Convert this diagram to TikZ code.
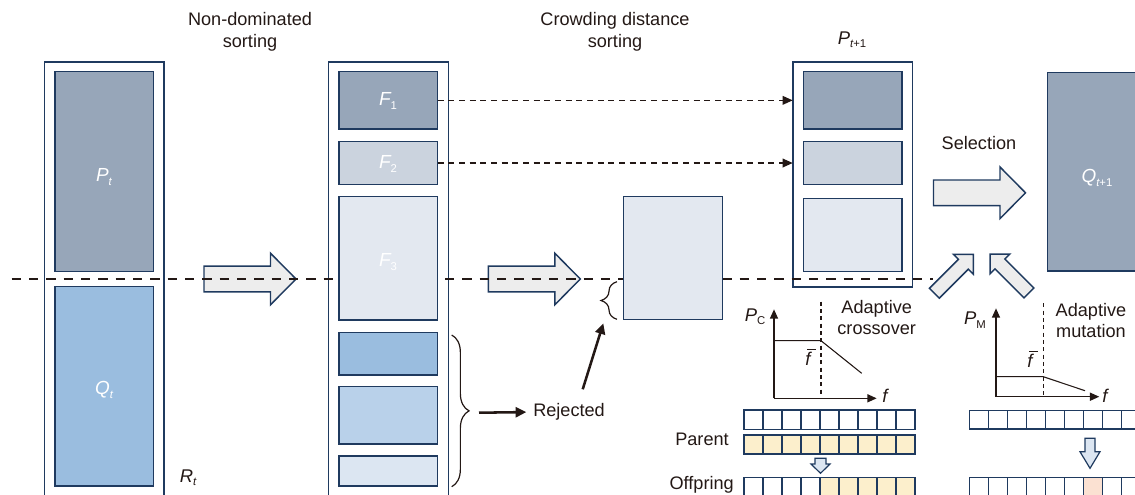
\documentclass[tikz,border=0pt]{standalone}
\usepackage{fontspec}
\setmainfont{Liberation Sans}
\usetikzlibrary{arrows.meta,decorations.pathreplacing,calc}

\definecolor{navy}{HTML}{1F3A5F}
\definecolor{ink}{HTML}{231815}
\definecolor{ptcol}{HTML}{97A6B9}
\definecolor{qtcol}{HTML}{9ABDDF}
\definecolor{ftwo}{HTML}{CBD3DE}
\definecolor{fthree}{HTML}{E3E8F0}
\definecolor{rejtwo}{HTML}{B9D1EA}
\definecolor{rejthree}{HTML}{DCE6F2}
\definecolor{arrfill}{HTML}{EDEDED}
\definecolor{genea}{HTML}{FCEFCC}
\definecolor{geneb}{HTML}{FBE1D2}
\definecolor{downfill}{HTML}{DCE6F2}

% small lowered index for the population / front labels
\newcommand\lowidx[1]{\raisebox{-0.35ex}{\fontsize{8.5}{8.5}\selectfont #1}}
% mean fitness: italic f with a bar above it
\newcommand\fmean{\makebox[0pt][l]{\hspace{1.2pt}\raisebox{11.5pt}{\rule{6.5pt}{0.7pt}}}{\itshape f}}
% rectangle node given by its two corners (in pixel units)
\newcommand\rectnode[6]{\node[#2, minimum width={(#5-#3)*0.75pt}, minimum height={(#6-#4)*0.75pt}] (#1) at ({(#3+#5)/2},{(#4+#6)/2}) {};}

\begin{document}
\begin{tikzpicture}[x=0.75pt,y=-0.75pt,
  txt/.style={font=\fontsize{13.6}{16.3}\selectfont, text=ink, inner sep=0pt, align=center},
  outerbox/.style={draw=navy, line width=1.2pt, inner sep=0pt, outer sep=0pt},
  fillbox/.style={draw=navy, line width=1.1pt, inner sep=0pt, outer sep=0pt},
  wlab/.style={text=white, font=\fontsize{14.2}{14}\selectfont\itshape, inner sep=0pt},
  klab/.style={text=ink, font=\fontsize{13.8}{13}\selectfont\itshape, inner sep=0pt},
  blockarr/.style={draw=navy, fill=arrfill, line width=1.1pt, line join=miter},
  downarr/.style={draw=navy, fill=downfill, line width=0.9pt, line join=miter},
  longdash/.style={draw=ink, line width=0.9pt, dash pattern=on 7pt off 6pt},
  dasharr/.style={draw=ink, line width=1pt, dash pattern=on 4.5pt off 3.5pt, -{Triangle[length=7.5pt,width=6.5pt]}},
  thickarr/.style={draw=ink, line width=1.9pt, -{Triangle[length=8pt,width=7.5pt]}},
  axis/.style={draw=ink, line width=1.1pt, -{Triangle[length=7pt,width=6pt]}},
  curve/.style={draw=ink, line width=0.8pt},
  guide/.style={draw=ink, line width=0.8pt, dash pattern=on 3pt off 2.5pt},
  bracesty/.style={draw=ink, line width=0.9pt, decorate},
  cell/.style={draw=navy, line width=1pt},
  fatarrow/.pic={\path[blockarr] (0,-12.8) -- (66.5,-12.8) -- (66.5,-25.8) -- (92,0) -- (66.5,25.8) -- (66.5,12.8) -- (0,12.8) -- cycle;},
  tiltarrow/.pic={\path[blockarr] (0,-7) -- (41,-7) -- (41,-14) -- (55,0) -- (41,14) -- (41,7) -- (0,7) -- cycle;}
]
\useasboundingbox (0,0) rectangle (1135,494);
\clip (0,0) rectangle (1135,494);

% ---- outer frames ----
\rectnode{Rt}{outerbox}{44.3}{61.7}{164}{520}
\rectnode{Fcol}{outerbox}{328.3}{61.7}{448.3}{520}
\rectnode{Pnext}{outerbox}{792.7}{61.7}{912.3}{286.7}

% ---- block arrows ----
\pic at (204,279) {fatarrow};
\pic at (488.3,279) {fatarrow};
\pic at (933.5,192.8) {fatarrow};
\pic[rotate=45] at (934.4,293.2) {tiltarrow};
\pic[rotate=135] at (1028.9,292.9) {tiltarrow};

% ---- split line between parents and offspring ----
\coordinate (splitL) at (11.7,279);
\coordinate (splitR) at (933,279);
\draw[longdash] (splitL) -- (splitR);

% ---- combined population R_t ----
\rectnode{Pt}{fillbox, fill=ptcol}{55}{71.7}{153.3}{271.7}
\rectnode{Qt}{fillbox, fill=qtcol}{55}{286.7}{153.3}{486}

% ---- non-dominated fronts ----
\rectnode{F1}{fillbox, fill=ptcol}{339}{71.7}{437.7}{129}
\rectnode{F2}{fillbox, fill=ftwo}{339}{141.7}{437.7}{184.3}
\rectnode{F3}{fillbox, fill=fthree}{339}{196.7}{437.7}{320}
\rectnode{F4}{fillbox, fill=qtcol}{339}{332.7}{437.7}{375}
\rectnode{F5}{fillbox, fill=rejtwo}{339}{386.7}{437.7}{444}
\rectnode{F6}{fillbox, fill=rejthree}{339}{456}{437.7}{486}

% ---- crowding-distance selection of F3 ----
\rectnode{Crowd}{fillbox, fill=fthree}{623.3}{196.7}{722.3}{319.3}

% ---- next parent population ----
\rectnode{N1}{fillbox, fill=ptcol}{803.3}{71.7}{902}{129}
\rectnode{N2}{fillbox, fill=ftwo}{803.3}{141.7}{902}{184.3}
\rectnode{N3}{fillbox, fill=fthree}{803.3}{198.3}{902}{271.7}

% ---- offspring population ----
\rectnode{Qnext}{fillbox, fill=ptcol}{1047.3}{72.3}{1160}{271}

% ---- labels ----
\node[wlab] (lPt) at (104,177) {P\lowidx{t}};
\node[wlab] (lQt) at (104,390) {Q\lowidx{t}};
\node[klab] (lRt) at (188,478) {R\lowidx{t}};
\node[wlab] (lF1) at (388,101) {F\lowidx{\upshape 1}};
\node[wlab] (lF2) at (388,164) {F\lowidx{\upshape 2}};
\node[wlab] (lF3) at (388,262) {F\lowidx{\upshape 3}};
\node[klab] (lPn) at (852,40) {P\lowidx{t\upshape +1}};
\node[wlab] (lQn) at (1097,178) {Q\lowidx{t\upshape +1}};

\node[txt] (tNds) at (250,32) {Non-dominated\\sorting};
\node[txt] (tCds) at (615,32) {Crowding distance\\sorting};
\node[txt] (tSel) at (979,143) {Selection};
\node[txt, anchor=west] (tRej) at (533,412) {Rejected};

% ---- front transfers ----
\draw[dasharr] (F1.east) -- (F1.east -| Pnext.west);
\draw[dasharr] (F2.east) -- (F2.east -| Pnext.west);

% ---- braces and rejection arrows ----
\coordinate (bigTop) at (451.7,335);
\coordinate (bigBot) at (451.7,486.7);
\draw[bracesty, decoration={brace, amplitude=13pt}] (bigTop) -- (bigBot);
\coordinate (bigTip) at (479,412.7);
\draw[thickarr, shorten >=5pt] (bigTip) -- (tRej.west);

\coordinate (smBot) at (617,319.3);
\coordinate (smTop) at (617,281.7);
\draw[bracesty, decoration={brace, amplitude=12pt}] (smBot) -- (smTop);
\coordinate (ptrFrom) at (582.7,389.3);
\coordinate (ptrTo) at (603.3,323.3);
\draw[thickarr] (ptrFrom) -- (ptrTo);

% ---- adaptive crossover ----
\coordinate (cO) at (774,398.3);
\coordinate (cY) at (774,309.3);
\coordinate (cX) at (876.7,398.3);
\draw[axis] (cO) -- (cY);
\draw[axis] (cO) -- (cX);
\coordinate (cK) at (821,340.7);
\draw[curve] (774,340.7) -- (cK) -- (861.7,373.3);
\draw[guide] (821,301.7) -- (821,397);
\node[klab] (lPc) at (755,317) {P\lowidx{\upshape C}};
\node[klab] (lfc) at (885,396) {f};
\node[klab] (lfbc) at (808,357) {\fmean};
\node[txt] (tCross) at (876.7,317.5) {Adaptive\\crossover};

% ---- adaptive mutation ----
\coordinate (mO) at (996,396.7);
\coordinate (mY) at (996,308.3);
\coordinate (mX) at (1099.3,396.7);
\draw[axis] (mO) -- (mY);
\draw[axis] (mO) -- (mX);
\coordinate (mK) at (1043.3,376.7);
\draw[curve] (996,376.7) -- (mK) -- (1085,390.7);
\draw[guide] (1043.3,303.3) -- (1043.3,395.5);
\node[klab] (lPm) at (975,320) {P\lowidx{\upshape M}};
\node[klab] (lfm) at (1105,396) {f};
\node[klab] (lfbm) at (1030,359) {\fmean};
\node[txt] (tMut) at (1091,320.5) {Adaptive\\mutation};

% ---- chromosomes: crossover ----
\node[txt, anchor=east] (tPar) at (729,439) {Parent};
\node[txt, anchor=east] (tOff) at (734,485) {Offpring};
\foreach \i in {0,...,8} {
  \draw[cell] ({744+19*\i},410) rectangle ++(19,19.3);
  \draw[cell, fill=genea] ({744+19*\i},435) rectangle ++(19,19);
}
\foreach \i in {0,...,3} \draw[cell] ({744+19*\i},477.3) rectangle ++(19,25);
\foreach \i in {4,...,8} \draw[cell, fill=genea] ({744+19*\i},477.3) rectangle ++(19,25);
\path[downarr] (815,458.3) -- (826,458.3) -- (826,464) -- (830,464) -- (820.5,473.3) -- (811,464) -- (815,464) -- cycle;

% ---- chromosomes: mutation ----
\foreach \i in {0,...,8} {
  \draw[cell] ({969.3+19*\i},410.7) rectangle ++(19,18.3);
  \draw[cell] ({969.3+19*\i},477.3) rectangle ++(19,25);
}
\draw[cell, fill=geneb] ({969.3+19*6},477.3) rectangle ++(19,25);
\path[downarr] (1085,438.3) -- (1095,438.3) -- (1095,451.7) -- (1100,451.7) -- (1090,468.3) -- (1080,451.7) -- (1085,451.7) -- cycle;
\end{tikzpicture}
\end{document}
